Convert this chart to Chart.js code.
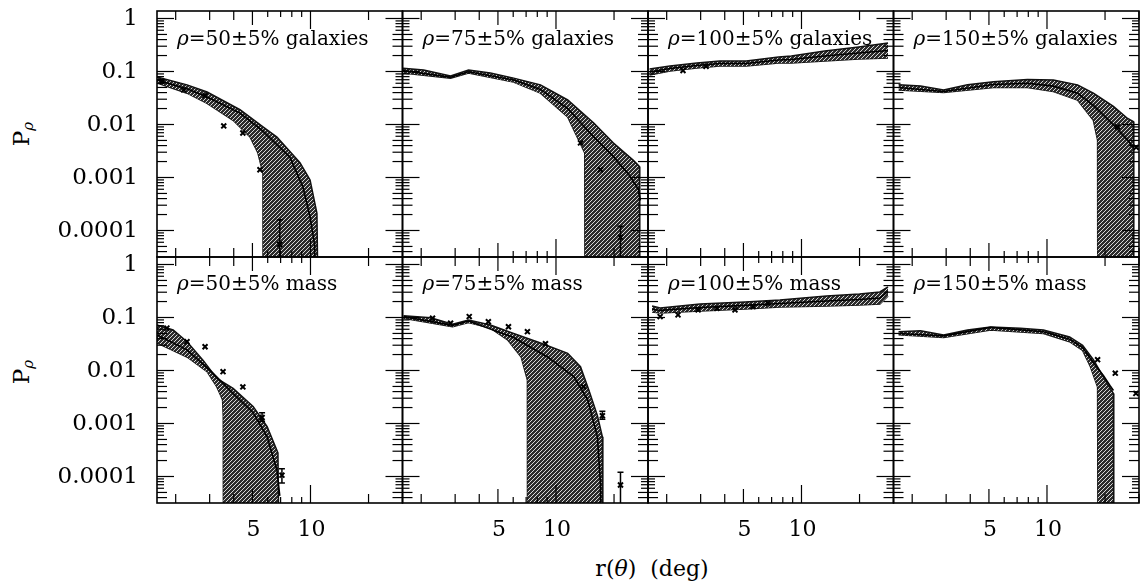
<!DOCTYPE html>
<html>
<head>
<meta charset="utf-8">
<script src="https://cdn.jsdelivr.net/npm/chart.js@4.4.0/dist/chart.umd.min.js"></script>
<style>
  body { margin: 0; background: #fff; width: 1148px; height: 588px; overflow: hidden; position: relative; font-family: "DejaVu Serif", serif; }
  canvas { position: absolute; left: 0; top: 0; }
  .ytitle { position: absolute; width: 60px; height: 26px; line-height: 26px; text-align: center; font-size: 23px; transform: rotate(-90deg); white-space: nowrap; }
  .ytitle sub { font-size: 15px; font-style: italic; vertical-align: -4px; }
  .xtitle { position: absolute; left: 552px; top: 556px; width: 200px; text-align: center; font-size: 22px; white-space: pre; }
</style>
</head>
<body>
<div class="ytitle" style="left:-9px; top:121px;">P<sub>ρ</sub></div>
<div class="ytitle" style="left:-9px; top:359px;">P<sub>ρ</sub></div>
<div class="xtitle">r(<i>θ</i>)  (deg)</div>

<script>
// axis ticks
const yLabelVals = [1, 0.1, 0.01, 0.001, 0.0001];
const yLabels = ['1', '0.1', '0.01', '0.001', '0.0001'];
const xLabelVals = [5, 10];
const xLabels = ['5', '10'];
const xTickVals = [2, 3, 4, 5, 6, 7, 8, 9, 10, 20, 30];

// rho = 50 galaxies
const g50HiR = [1.6, 2.29, 2.91, 4.31, 5.67, 6.70, 8.82, 9.95, 10.8, 11.0];
const g50Hi = [0.079, 0.056, 0.041, 0.019, 0.0090, 0.0058, 0.0019, 0.0009, 0.00021, 1e-6];
const g50LoR = [1.6, 2.29, 2.91, 3.97, 4.86, 5.34, 5.67, 5.68, 11.0];
const g50Lo = [0.061, 0.039, 0.025, 0.012, 0.0058, 0.0029, 0.0012, 1e-6, 1e-6];
const g50LineR = [1.6, 2.29, 2.91, 4.31, 5.67, 7.83, 9.14, 9.95, 10.5, 10.6];
const g50Line = [0.069, 0.047, 0.033, 0.0164, 0.0075, 0.0024, 0.00066, 0.00018, 0.000054, 1e-6];
const g50PtR = [1.7, 2.2, 2.84, 3.55, 4.46, 5.47, 6.93];
const g50Pt = [0.065, 0.045, 0.035, 0.0094, 0.0069, 0.0014, 0.000055];
const g50ErrLo = [null, null, null, null, null, null, 1e-6];
const g50ErrHi = [null, null, null, null, null, null, 0.00016];

// rho = 75 galaxies
const g75HiR = [1.61, 2.06, 2.84, 3.52, 4.57, 6.03, 8.31, 11.5, 15.7, 19.8, 25.2, 27.1, 27.2];
const g75Hi = [0.115, 0.107, 0.082, 0.107, 0.094, 0.075, 0.056, 0.029, 0.0107, 0.0045, 0.0021, 0.0016, 1e-6];
const g75LoR = [1.61, 2.84, 3.52, 6.03, 8.31, 11.5, 14.1, 14.15, 27.2];
const g75Lo = [0.094, 0.075, 0.094, 0.063, 0.039, 0.0139, 0.0029, 1e-6, 1e-6];
const g75LineR = [1.61, 2.84, 3.52, 6.03, 8.31, 11.5, 15.7, 19.8, 24.0, 26.8, 27.4];
const g75Line = [0.104, 0.078, 0.099, 0.069, 0.046, 0.020, 0.0058, 0.0025, 0.0011, 0.00059, 0.00037];
const g75PtR = [13.4, 17.0, 21.6];
const g75Pt = [0.0045, 0.0014, 0.000075];
const g75ErrLo = [null, null, 1e-6];
const g75ErrHi = [null, null, 0.00012];

// rho = 100 galaxies
const g100HiR = [1.63, 2.08, 2.87, 3.77, 5.17, 7.61, 8.86, 13.2, 19.8, 28.1];
const g100Hi = [0.112, 0.127, 0.144, 0.158, 0.158, 0.188, 0.196, 0.243, 0.290, 0.345];
const g100LoR = [1.63, 2.08, 2.87, 3.77, 5.17, 7.61, 8.86, 13.2, 19.8, 28.1];
const g100Lo = [0.086, 0.102, 0.116, 0.127, 0.127, 0.144, 0.144, 0.158, 0.172, 0.180];
const g100LineR = [1.63, 2.08, 2.87, 3.77, 5.17, 7.61, 8.86, 13.2, 19.8, 28.1];
const g100Line = [0.098, 0.114, 0.130, 0.142, 0.142, 0.165, 0.168, 0.196, 0.223, 0.249];
const g100PtR = [2.43, 3.2];
const g100Pt = [0.104, 0.125];
const g100ErrLo = [null, null];
const g100ErrHi = [null, null];

// rho = 150 galaxies
const g150HiR = [1.70, 2.21, 2.91, 3.87, 5.28, 7.92, 10.8, 14.4, 17.4, 22.1, 26.2, 28.1, 28.2];
const g150Hi = [0.056, 0.053, 0.045, 0.056, 0.064, 0.071, 0.069, 0.056, 0.039, 0.022, 0.013, 0.0113, 1e-6];
const g150LoR = [1.70, 2.91, 5.28, 7.92, 10.8, 14.4, 17.4, 18.3, 18.35, 28.2];
const g150Lo = [0.045, 0.040, 0.050, 0.050, 0.042, 0.029, 0.012, 0.0051, 1e-6, 1e-6];
const g150LineR = [1.70, 2.91, 5.28, 7.92, 10.8, 14.4, 17.4, 22.1, 26.2, 28.1];
const g150Line = [0.050, 0.042, 0.057, 0.060, 0.053, 0.039, 0.023, 0.0098, 0.0051, 0.0036];
const g150PtR = [23.2, 29.0];
const g150Pt = [0.009, 0.0037];
const g150ErrLo = [null, null];
const g150ErrHi = [null, null];

// rho = 50 mass
const m50HiR = [1.6, 1.94, 2.29, 2.77, 3.27, 3.97, 5.04, 5.96, 6.78, 6.9];
const m50Hi = [0.072, 0.058, 0.035, 0.0157, 0.0071, 0.0046, 0.0021, 0.00087, 0.00028, 1e-6];
const m50LoR = [1.6, 2.29, 2.91, 3.27, 3.50, 3.53, 3.54, 6.9];
const m50Lo = [0.033, 0.018, 0.0095, 0.0049, 0.0028, 0.0014, 1e-6, 1e-6];
const m50LineR = [1.6, 2.29, 3.12, 3.97, 5.04, 5.96, 6.70, 6.93];
const m50Line = [0.047, 0.0245, 0.0089, 0.0037, 0.0016, 0.00056, 0.00013, 0.000043];
const m50PtR = [1.8, 2.29, 2.84, 3.52, 4.46, 5.61, 7.11];
const m50Pt = [0.063, 0.035, 0.028, 0.0095, 0.0049, 0.0013, 0.000106];
const m50ErrLo = [null, null, null, null, null, 0.0011, 0.000075];
const m50ErrHi = [null, null, null, null, null, 0.0016, 0.00014];

// rho = 75 mass
const m75HiR = [1.62, 2.24, 2.91, 3.52, 4.57, 6.03, 8.31, 11.5, 13.4, 14.8, 16.4, 17.4, 17.5];
const m75Hi = [0.108, 0.099, 0.075, 0.090, 0.072, 0.050, 0.033, 0.021, 0.0118, 0.0043, 0.0014, 0.00056, 1e-6];
const m75LoR = [1.62, 2.91, 3.52, 4.57, 5.61, 6.6, 7.11, 7.12, 17.5];
const m75Lo = [0.097, 0.067, 0.080, 0.063, 0.038, 0.018, 0.0066, 1e-6, 1e-6];
const m75LineR = [1.62, 2.91, 3.52, 6.03, 9.04, 12.4, 14.6, 16.4, 17.0, 17.2];
const m75Line = [0.104, 0.071, 0.086, 0.042, 0.018, 0.0076, 0.0028, 0.00056, 0.000074, 1e-6];
const m75PtR = [2.29, 2.84, 3.55, 4.46, 5.67, 7.11, 8.82, 13.9, 17.4, 21.6];
const m75Pt = [0.097, 0.078, 0.104, 0.083, 0.067, 0.054, 0.032, 0.0049, 0.0014, 0.000069];
const m75ErrLo = [null, null, null, null, null, null, null, null, 0.0012, 1e-6];
const m75ErrHi = [null, null, null, null, null, null, null, null, 0.0017, 0.00012];

// rho = 100 mass
const m100HiR = [1.68, 1.85, 2.98, 5.10, 7.73, 13.5, 20.0, 25.5, 28.1];
const m100Hi = [0.165, 0.151, 0.180, 0.196, 0.214, 0.254, 0.277, 0.303, 0.376];
const m100LoR = [1.68, 1.85, 2.98, 5.10, 7.73, 13.5, 20.0, 25.5, 28.1];
const m100Lo = [0.127, 0.122, 0.133, 0.144, 0.158, 0.165, 0.172, 0.180, 0.254];
const m100LineR = [1.68, 1.85, 2.98, 5.10, 7.73, 13.5, 20.0, 25.5, 28.1];
const m100Line = [0.144, 0.136, 0.154, 0.169, 0.184, 0.205, 0.218, 0.233, 0.31];
const m100PtR = [1.85, 2.29, 2.91, 3.64, 4.52, 5.61, 6.7];
const m100Pt = [0.104, 0.112, 0.139, 0.149, 0.139, 0.160, 0.185];
const m100ErrLo = [null, null, null, null, null, null, null];
const m100ErrHi = [null, null, null, null, null, null, null];

// rho = 150 mass
const m150HiR = [1.70, 2.21, 2.91, 3.87, 5.10, 7.28, 9.59, 13.1, 15.3, 17.4, 20.5, 22.1, 22.2];
const m150Hi = [0.054, 0.056, 0.047, 0.058, 0.066, 0.063, 0.058, 0.043, 0.030, 0.016, 0.0057, 0.0037, 1e-6];
const m150LoR = [1.70, 2.91, 5.10, 9.59, 13.1, 15.3, 16.8, 18.3, 18.4, 22.2];
const m150Lo = [0.047, 0.042, 0.058, 0.050, 0.035, 0.024, 0.0118, 0.0049, 1e-6, 1e-6];
const m150LineR = [1.70, 2.91, 5.10, 9.59, 13.1, 15.3, 17.4, 19.6, 21.2, 22.1];
const m150Line = [0.050, 0.045, 0.065, 0.054, 0.039, 0.027, 0.014, 0.0081, 0.0052, 0.0042];
const m150PtR = [18.3, 22.6, 28.9];
const m150Pt = [0.016, 0.0089, 0.0037];
const m150ErrLo = [null, null, null];
const m150ErrHi = [null, null, null];

const panels = [
  { col: 0, row: 0, text: '=50±5% galaxies', hiR: g50HiR, hi: g50Hi, loR: g50LoR, lo: g50Lo, lineR: g50LineR, line: g50Line, ptR: g50PtR, pt: g50Pt, errLo: g50ErrLo, errHi: g50ErrHi },
  { col: 1, row: 0, text: '=75±5% galaxies', hiR: g75HiR, hi: g75Hi, loR: g75LoR, lo: g75Lo, lineR: g75LineR, line: g75Line, ptR: g75PtR, pt: g75Pt, errLo: g75ErrLo, errHi: g75ErrHi },
  { col: 2, row: 0, text: '=100±5% galaxies', hiR: g100HiR, hi: g100Hi, loR: g100LoR, lo: g100Lo, lineR: g100LineR, line: g100Line, ptR: g100PtR, pt: g100Pt, errLo: g100ErrLo, errHi: g100ErrHi },
  { col: 3, row: 0, text: '=150±5% galaxies', hiR: g150HiR, hi: g150Hi, loR: g150LoR, lo: g150Lo, lineR: g150LineR, line: g150Line, ptR: g150PtR, pt: g150Pt, errLo: g150ErrLo, errHi: g150ErrHi },
  { col: 0, row: 1, text: '=50±5% mass', hiR: m50HiR, hi: m50Hi, loR: m50LoR, lo: m50Lo, lineR: m50LineR, line: m50Line, ptR: m50PtR, pt: m50Pt, errLo: m50ErrLo, errHi: m50ErrHi },
  { col: 1, row: 1, text: '=75±5% mass', hiR: m75HiR, hi: m75Hi, loR: m75LoR, lo: m75Lo, lineR: m75LineR, line: m75Line, ptR: m75PtR, pt: m75Pt, errLo: m75ErrLo, errHi: m75ErrHi },
  { col: 2, row: 1, text: '=100±5% mass', hiR: m100HiR, hi: m100Hi, loR: m100LoR, lo: m100Lo, lineR: m100LineR, line: m100Line, ptR: m100PtR, pt: m100Pt, errLo: m100ErrLo, errHi: m100ErrHi },
  { col: 3, row: 1, text: '=150±5% mass', hiR: m150HiR, hi: m150Hi, loR: m150LoR, lo: m150Lo, lineR: m150LineR, line: m150Line, ptR: m150PtR, pt: m150Pt, errLo: m150ErrLo, errHi: m150ErrHi }
];

// page geometry of the panel grid
const W = 1148, H = 588;
const colLeft = [157, 402.5, 648, 893.5];
const colWidth = 245.5;
const rowTop = [11, 257];
const rowHeight = 246;

function zip(xs, ys) {
  return xs.map((x, i) => ({ x: x, y: ys[i] }));
}

function makeHatch() {
  const c = document.createElement('canvas');
  c.width = 4; c.height = 4;
  const g = c.getContext('2d');
  g.fillStyle = '#2c2c2c';
  g.fillRect(0, 0, 4, 4);
  g.strokeStyle = '#d8d8d8';
  g.lineWidth = 1;
  g.beginPath();
  g.moveTo(0, 4); g.lineTo(4, 0);
  g.moveTo(-2, 2); g.lineTo(2, -2);
  g.moveTo(2, 6); g.lineTo(6, 2);
  g.stroke();
  return g.createPattern(c, 'repeat');
}
const hatch = makeHatch();

function seg(ctx, x1, y1, x2, y2) {
  ctx.beginPath(); ctx.moveTo(x1, y1); ctx.lineTo(x2, y2); ctx.stroke();
}

// frame, inward ticks, tick labels, panel caption, error bars
const panelDeco = {
  id: 'panelDeco',
  afterDatasetsDraw(chart) {
    const o = chart.options.plugins.panelDeco;
    const { ctx, chartArea: a } = chart;
    const x = chart.scales.x, y = chart.scales.y;
    const pts = chart.data.datasets[3];

    ctx.save();
    ctx.beginPath();
    ctx.rect(a.left, a.top, a.right - a.left, a.bottom - a.top);
    ctx.clip();
    ctx.strokeStyle = '#000';
    ctx.lineWidth = 1.5;
    pts.errHi.forEach((hi, i) => {
      if (hi == null) return;
      const px = x.getPixelForValue(pts.data[i].x);
      const top = y.getPixelForValue(hi);
      const bot = y.getPixelForValue(pts.errLo[i]);
      seg(ctx, px, top, px, bot);
      seg(ctx, px - 3, top, px + 3, top);
      seg(ctx, px - 3, bot, px + 3, bot);
    });
    ctx.restore();

    ctx.save();
    ctx.strokeStyle = '#000';
    ctx.lineWidth = 1.2;
    for (let e = -5; e <= 0; e++) {
      for (let m = 1; m <= 9; m++) {
        const v = m * Math.pow(10, e);
        if (v < y.min || v > y.max) continue;
        const py = y.getPixelForValue(v);
        const len = m === 1 ? 17 : (m <= 5 ? 10 : 7);
        seg(ctx, a.left, py, a.left + len, py);
        seg(ctx, a.right, py, a.right - len, py);
      }
    }
    xTickVals.forEach(v => {
      if (v < x.min || v > x.max) return;
      const px = x.getPixelForValue(v);
      const len = v === 10 ? 18 : (v === 5 ? 14 : (v >= 6 && v <= 9 ? 6 : 9));
      seg(ctx, px, a.top, px, a.top + len);
      seg(ctx, px, a.bottom, px, a.bottom - len);
    });
    ctx.lineWidth = 1.6;
    ctx.strokeRect(a.left, a.top, a.right - a.left, a.bottom - a.top);

    ctx.fillStyle = '#000';
    if (o.col === 0) {
      ctx.font = '23px "DejaVu Serif"';
      ctx.textAlign = 'right';
      ctx.textBaseline = 'middle';
      yLabelVals.forEach((v, i) => ctx.fillText(yLabels[i], a.left - 19, y.getPixelForValue(v) + 1));
    }
    if (o.row === 1) {
      ctx.font = '22px "DejaVu Serif"';
      ctx.textAlign = 'center';
      ctx.textBaseline = 'alphabetic';
      xLabelVals.forEach((v, i) => ctx.fillText(xLabels[i], x.getPixelForValue(v) + 1, a.bottom + 33));
    }
    ctx.textAlign = 'left';
    ctx.textBaseline = 'alphabetic';
    const bx = a.left + 20, by = a.top + (o.row === 0 ? 34 : 33);
    ctx.font = 'italic 20px "DejaVu Serif"';
    ctx.fillText('ρ', bx, by);
    const w = ctx.measureText('ρ').width;
    ctx.font = '20px "DejaVu Serif"';
    ctx.fillText(o.text, bx + w, by);
    ctx.restore();
  }
};

panels.forEach(p => {
  const cv = document.createElement('canvas');
  cv.width = W; cv.height = H;
  cv.style.width = W + 'px'; cv.style.height = H + 'px';
  document.body.appendChild(cv);
  const left = colLeft[p.col], top = rowTop[p.row];
  new Chart(cv.getContext('2d'), {
    type: 'line',
    data: {
      datasets: [
        { data: zip(p.hiR, p.hi), order: 3, borderColor: '#111', borderWidth: 1.5, backgroundColor: hatch, fill: '+1', pointRadius: 0 },
        { data: zip(p.loR, p.lo), order: 3, borderColor: '#111', borderWidth: 1.5, fill: false, pointRadius: 0 },
        { data: zip(p.lineR, p.line), order: 1, borderColor: '#000', borderWidth: 1.6, fill: false, pointRadius: 0 },
        { data: zip(p.ptR, p.pt), order: 0, showLine: false, pointStyle: 'crossRot', pointRadius: 3.5, borderColor: '#000', borderWidth: 2, fill: false, errLo: p.errLo, errHi: p.errHi }
      ]
    },
    options: {
      responsive: false,
      animation: false,
      events: [],
      layout: { padding: { left: left, top: top, right: W - left - colWidth, bottom: H - top - rowHeight } },
      scales: {
        x: { type: 'logarithmic', min: 1.6, max: 30, display: false },
        y: { type: 'logarithmic', min: 3.162e-5, max: 1.385, display: false }
      },
      plugins: {
        legend: { display: false },
        tooltip: { enabled: false },
        panelDeco: { col: p.col, row: p.row, text: p.text }
      }
    },
    plugins: [panelDeco]
  });
});
</script>
</body>
</html>
